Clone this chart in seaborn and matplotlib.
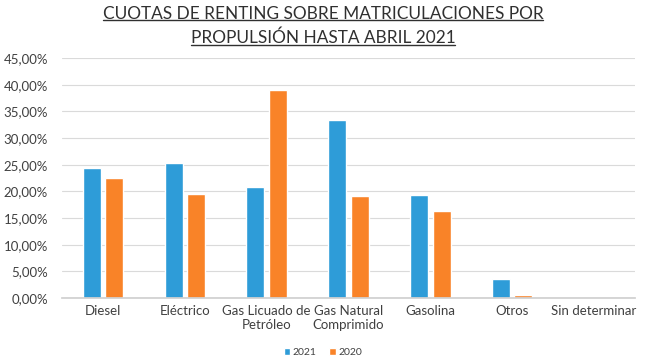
import matplotlib
matplotlib.use("Agg")
import matplotlib.pyplot as plt
import matplotlib.lines as mlines
import numpy as np
import pandas as pd
import seaborn as sns

categorias = ["Diesel", "Eléctrico", "Gas Licuado de\nPetróleo", "Gas Natural\nComprimido",
              "Gasolina", "Otros", "Sin determinar"]
cuota_2021 = [24.4, 25.3, 20.8, 33.4, 19.3, 3.6, 0.0]
cuota_2020 = [22.5, 19.5, 39.0, 19.1, 16.3, 0.6, 0.0]
anios = ["2021", "2020"]

df = pd.DataFrame({
    "categoria": categorias * 2,
    "valor": cuota_2021 + cuota_2020,
    "anio": [anios[0]] * len(categorias) + [anios[1]] * len(categorias),
})

sns.set_theme(style="white")
plt.rcParams["font.family"] = ["Lato", "DejaVu Sans"]

fig = plt.figure(figsize=(6.46, 3.63), dpi=100)
ax = fig.add_axes([0.096, 0.179, 0.887, 0.661])

sns.barplot(data=df, x="categoria", y="valor", hue="anio", ax=ax,
            palette={"2021": "#2E9CD8", "2020": "#F98328"},
            width=0.55, gap=0.2, saturation=1)

ax.set_ylim(0, 45)
ticks = np.arange(0, 46, 5)
ax.set_yticks(ticks)
ax.set_yticklabels([f"{t:.2f}".replace(".", ",") + "%" for t in ticks], fontsize=9.5, color="#404040")
ax.tick_params(axis="x", labelsize=9.5, colors="#404040", length=0, pad=5)
ax.tick_params(axis="y", length=0, pad=10)
ax.grid(axis="y", color="#DADADA", linewidth=0.8)
ax.set_axisbelow(True)
ax.set_xlabel("")
ax.set_ylabel("")
for s in ["top", "right", "left"]:
    ax.spines[s].set_visible(False)
ax.spines["bottom"].set_color("#D0D0D0")
ax.set_xlim(-0.5, len(categorias) - 0.5)

ax.legend(loc="center", bbox_to_anchor=(0.5, 0.028), bbox_transform=fig.transFigure,
          ncol=2, frameon=False, fontsize=7.5, handlelength=0.6, handleheight=0.6,
          columnspacing=1.2, handletextpad=0.3, labelcolor="#404040")

titulo = {"ha": "center", "va": "center", "fontsize": 12.4, "color": "#303030"}
t1 = fig.text(0.5, 0.962, "CUOTAS DE RENTING SOBRE MATRICULACIONES POR", **titulo)
t2 = fig.text(0.5, 0.896, "PROPULSIÓN HASTA ABRIL 2021", **titulo)

fig.canvas.draw()
inv = fig.transFigure.inverted()
for t in (t1, t2):
    bb = t.get_window_extent()
    (x0, y0), (x1, y1) = inv.transform([(bb.x0, bb.y0), (bb.x1, bb.y1)])
    fig.add_artist(mlines.Line2D([x0, x1], [y0 + 0.004, y0 + 0.004], color="#303030", linewidth=1))

fig.savefig("out.png", dpi=100)
